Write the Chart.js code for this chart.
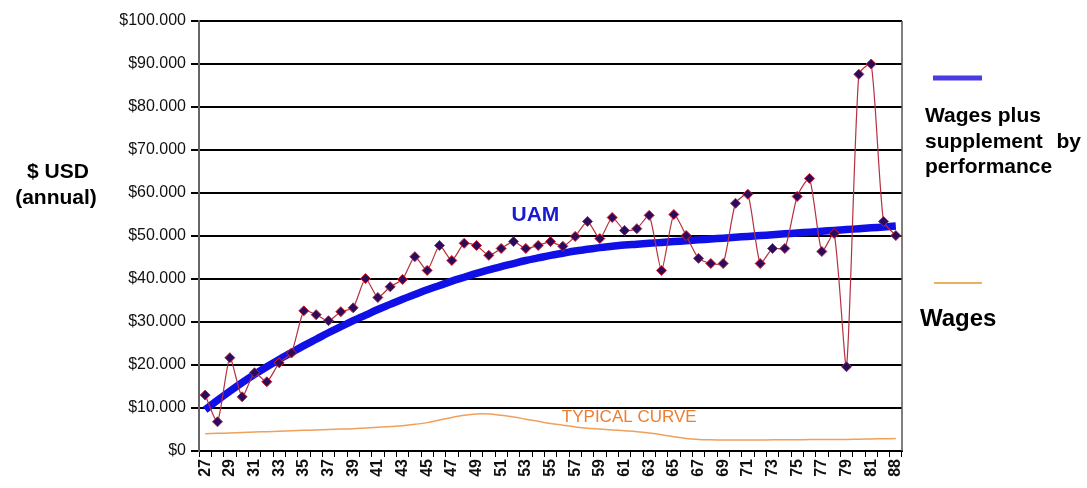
<!DOCTYPE html>
<html>
<head>
<meta charset="utf-8">
<script src="https://cdn.jsdelivr.net/npm/chart.js@4"></script>
<style>
    html, body { margin: 0; padding: 0; background: #fff; }
    #wrap { width: 1087px; height: 488px; }
</style>
</head>
<body>
<div id="wrap"><canvas id="myChart" width="1087" height="488"></canvas></div>
<script>
// categories (years, two digits)
const categories = ['27', '28', '29', '30', '31', '32', '33', '34', '35', '36', '37', '38', '39', '40',
    '41', '42', '43', '44', '45', '46', '47', '48', '49', '50', '51', '52', '53', '54', '55', '56',
    '57', '58', '59', '60', '61', '62', '63', '64', '65', '66', '67', '68', '69', '70', '71', '72',
    '73', '74', '75', '76', '77', '78', '79', '80', '81', '82', '88']

// wages plus supplement by performance (points)
const supplementValues = [13000, 6800, 21700, 12600, 18200, 16100, 20500, 22800, 32600, 31700,
    30300, 32400, 33300, 40100, 35700, 38200, 39900, 45200, 42000, 47800, 44300, 48300, 47800,
    45500, 47100, 48700, 47100, 47800, 48700, 47600, 49900, 53400, 49400, 54300, 51300, 51700,
    54800, 42000, 55000, 50100, 44800, 43600, 43600, 57600, 59700, 43600, 47100, 47100, 59200,
    63400, 46400, 50600, 19600, 87600, 90000, 53400, 50100]

// UAM trend (thick blue curve)
const uamTrend = [9600, 11800, 13900, 15900, 17800, 19600, 21300, 22900, 24500, 26000, 27500,
    28900, 30300, 31600, 32900, 34100, 35300, 36400, 37500, 38500, 39500, 40400, 41300, 42100,
    42900, 43600, 44300, 44900, 45500, 46000, 46500, 46900, 47300, 47600, 47900, 48100, 48300,
    48500, 48700, 48900, 49100, 49300, 49500, 49700, 49900, 50100, 50300, 50500, 50700, 50900,
    51100, 51300, 51500, 51700, 51900, 52100, 52300]

// wages, typical curve (thin orange)
const wageValues = [4000, 4100, 4200, 4300, 4400, 4500, 4600, 4700, 4800, 4900, 5000, 5100, 5200,
    5350, 5500, 5700, 5900, 6200, 6600, 7200, 7800, 8300, 8600, 8600, 8300, 7900, 7400, 6900, 6400,
    6000, 5600, 5300, 5100, 4900, 4700, 4500, 4200, 3800, 3300, 2900, 2700, 2600, 2550, 2550, 2550,
    2550, 2600, 2600, 2600, 2650, 2650, 2700, 2700, 2750, 2800, 2850, 2900]

const yMin = 0
const yMax = 100000
const yStep = 10000

const FONT = '"Liberation Sans", Arial, sans-serif'

function money(v) {
    if (v === 0) return '$0'
    const s = String(v)
    return '$' + s.slice(0, s.length - 3) + '.' + s.slice(-3)
}

// extra texts: axis title, in-plot labels, legend, right frame
const extrasPlugin = {
    id: 'extras',
    afterDraw(chart) {
        const ctx = chart.ctx
        const area = chart.chartArea
        const x = chart.scales.x
        const y = chart.scales.y
        ctx.save()

        // right frame of plot
        ctx.strokeStyle = '#555'
        ctx.lineWidth = 1.5
        ctx.beginPath()
        ctx.moveTo(area.right, area.top)
        ctx.lineTo(area.right, area.bottom)
        ctx.stroke()

        // y title
        ctx.fillStyle = '#000'
        ctx.textAlign = 'center'
        ctx.textBaseline = 'alphabetic'
        ctx.font = 'bold 21px ' + FONT
        ctx.fillText('$ USD', 58, 178)
        ctx.fillText('(annual)', 56, 204)

        // UAM label
        ctx.fillStyle = '#1a1ad0'
        ctx.font = 'bold 21px ' + FONT
        ctx.textAlign = 'left'
        ctx.fillText('UAM', x.getPixelForValue(25) - 2, y.getPixelForValue(53500))

        // typical curve label
        ctx.fillStyle = '#ee7d2e'
        ctx.font = '17px ' + FONT
        ctx.fillText('TYPICAL CURVE', x.getPixelForValue(29) - 1, y.getPixelForValue(6800))

        // legend
        ctx.strokeStyle = '#4b3be3'
        ctx.lineWidth = 5
        ctx.beginPath()
        ctx.moveTo(933, 78)
        ctx.lineTo(982, 78)
        ctx.stroke()

        ctx.fillStyle = '#000'
        ctx.font = 'bold 21px ' + FONT
        ctx.fillText('Wages plus', 925, 122)
        ctx.fillText('supplement', 925, 148)
        ctx.textAlign = 'right'
        ctx.fillText('by', 1081, 148)
        ctx.textAlign = 'left'
        ctx.fillText('performance', 925, 173)

        ctx.strokeStyle = '#e8b25c'
        ctx.lineWidth = 2
        ctx.beginPath()
        ctx.moveTo(934, 283)
        ctx.lineTo(982, 283)
        ctx.stroke()

        ctx.fillStyle = '#000'
        ctx.font = 'bold 24px ' + FONT
        ctx.fillText('Wages', 920, 326)

        ctx.restore()
    }
}

const config = {
    type: 'line',
    data: {
        labels: categories,
        datasets: [{
            label: 'Wages plus supplement by performance',
            data: supplementValues,
            borderColor: '#b53040',
            borderWidth: 1.2,
            pointStyle: 'rectRot',
            pointRadius: 5,
            pointBackgroundColor: '#2b0b5e',
            pointBorderColor: '#d02030',
            pointBorderWidth: 1,
            tension: 0.2,
            order: 0
        }, {
            label: 'UAM',
            data: uamTrend,
            borderColor: '#1010e6',
            borderWidth: 7.5,
            pointRadius: 0,
            tension: 0.4,
            order: 1
        }, {
            label: 'Wages',
            data: wageValues,
            borderColor: '#f0a05a',
            borderWidth: 1.5,
            pointRadius: 0,
            tension: 0.4,
            order: 2
        }]
    },
    options: {
        responsive: false,
        animation: false,
        devicePixelRatio: 1,
        layout: {
            padding: { left: 0, right: 185, top: 21, bottom: 0 }
        },
        plugins: {
            legend: { display: false },
            tooltip: { enabled: false }
        },
        scales: {
            x: {
                offset: true,
                grid: {
                    offset: true,
                    drawOnChartArea: false,
                    tickLength: 6,
                    color: '#000',
                    lineWidth: 1
                },
                border: { color: '#000', width: 2 },
                ticks: {
                    autoSkip: false,
                    maxRotation: 90,
                    minRotation: 90,
                    padding: 2,
                    color: '#111',
                    font: { family: FONT, size: 16, weight: 'bold' },
                    callback: function (val, i) {
                        return i % 2 === 0 ? this.getLabelForValue(val) : ''
                    }
                },
                afterFit(scale) { scale.height = 37 }
            },
            y: {
                min: yMin,
                max: yMax,
                grid: {
                    color: '#000',
                    lineWidth: 2,
                    tickLength: 8
                },
                border: { color: '#666', width: 2 },
                ticks: {
                    stepSize: yStep,
                    padding: 5,
                    color: '#111',
                    font: { family: FONT, size: 16 },
                    callback: v => money(v)
                },
                afterFit(scale) { scale.width = 199 }
            }
        }
    },
    plugins: [extrasPlugin]
}

let myChart = new Chart(document.getElementById('myChart'), config)
</script>
</body>
</html>
